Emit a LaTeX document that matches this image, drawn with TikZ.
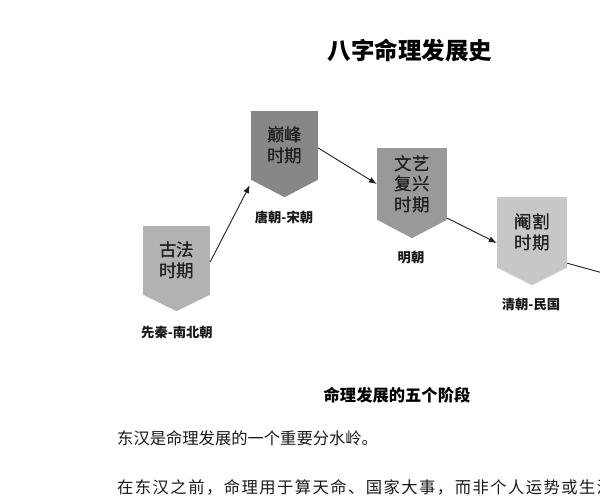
\documentclass[tikz,border=0pt]{standalone}
\usepackage{fontspec}
\newfontfamily\cjk{Noto Sans CJK SC}
\usetikzlibrary{calc,arrows.meta}
\newcommand\stagebox[8]{%
  \node[stage, fill=#7, minimum width=#4pt, text width=#4pt, minimum height=#5pt] (#1) at (#2,#3) {#8};
  \fill[#7] ($(#1.south west)+(0,-0.6)$) -- ($(#1.south east)+(0,-0.6)$) -- ($(#1.south)+(0,#6)$) -- cycle;
  \node[stage, fill=none, minimum width=#4pt, text width=#4pt, minimum height=#5pt] at (#2,#3) {#8};
}
\begin{document}
\begin{tikzpicture}[x=1pt,y=-1pt,
  stage/.style={inner sep=0pt, align=center, font=\cjk\fontsize{17.5}{20.5}\selectfont, text=black!88},
  era/.style={inner sep=0pt, font=\cjk\bfseries\fontsize{13.3}{15}\selectfont, text=black!90},
  link/.style={draw=black!88, line width=0.9pt, -{Latex[length=8pt,width=6pt]}},
  plain/.style={draw=black!88, line width=0.9pt}]
\useasboundingbox (0,0) rectangle (600,500);
\clip (0,0) rectangle (600,500);
\fill[white] (0,0) rectangle (600,500);

\node[inner sep=0pt, font=\cjk\bfseries\fontsize{23.5}{26}\selectfont] (title) at (410,50) {八字命理发展史};

\stagebox{n1}{176.5}{260.5}{67}{69}{16}{black!30}{古法\\时期}
\stagebox{n2}{284.5}{145.5}{67}{69}{17}{black!47}{巅峰\\时期}
\stagebox{n3}{412}{184}{70}{72}{18}{black!40}{文艺\\复兴\\时期}
\stagebox{n4}{532}{232.5}{70}{71}{17}{black!22}{阉割\\时期}

\node[era] (l1) at (177,332) {先秦-南北朝};
\node[era] (l2) at (284,217) {唐朝-宋朝};
\node[era] (l3) at (411,257) {明朝};
\node[era] (l4) at (531,304) {清朝-民国};

\coordinate (out) at (610,275);
\draw[link] ($(n1.north east)!0.52!(n1.south east)$) -- ($(n2.south west)+(-1,5)$);
\draw[link] ($(n2.east)+(0,2.5)$) -- (n3.west);
\draw[link] ($(n3.south east)+(0,-2)$) -- ($(n4.west)+(0,10.5)$);
\draw[plain] ($(n4.south east)+(0,-5)$) -- (out);

\node[inner sep=0pt, font=\cjk\bfseries\fontsize{16.3}{18}\selectfont] (cap) at (397,395) {命理发展的五个阶段};

\node[inner sep=0pt, anchor=west, font=\cjk\fontsize{16.3}{18}\selectfont, text=black!90] (p1) at (117,438) {东汉是命理发展的一个重要分水岭。};
\node[inner sep=0pt, anchor=west, font=\cjk\fontsize{16.3}{18}\selectfont\addfontfeatures{LetterSpace=9}, text=black!90] (p2) at (117,487) {在东汉之前，命理用于算天命、国家大事，而非个人运势或生活};
\end{tikzpicture}
\end{document}
